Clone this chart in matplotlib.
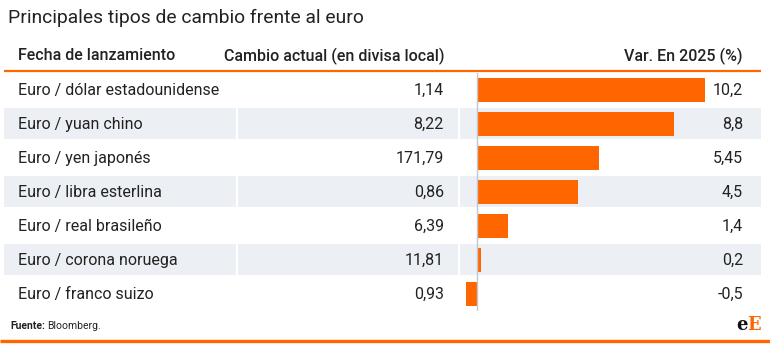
import matplotlib
matplotlib.use("Agg")
import matplotlib.pyplot as plt

pares = ["Euro / dólar estadounidense", "Euro / yuan chino", "Euro / yen japonés",
         "Euro / libra esterlina", "Euro / real brasileño", "Euro / corona noruega",
         "Euro / franco suizo"]
cambio = ["1,14", "8,22", "171,79", "0,86", "6,39", "11,81", "0,93"]
variacion = [10.2, 8.8, 5.45, 4.5, 1.4, 0.2, -0.5]
var_labels = ["10,2", "8,8", "5,45", "4,5", "1,4", "0,2", "-0,5"]

orange = "#ff6600"
shade = "#eceff3"
txt = "#222222"

plt.rcParams['font.family'] = ['Roboto', 'DejaVu Sans']

W, H = 770, 353
fig = plt.figure(figsize=(W / 100, H / 100), dpi=100)

# background axes in pixel coordinates, used for the table layout
bg = fig.add_axes([0, 0, 1, 1])
bg.set_xlim(0, W)
bg.set_ylim(H, 0)
bg.axis("off")

bg.text(8, 18, "Principales tipos de cambio frente al euro", fontsize=13.9,
        color=txt, va="center", ha="left")

hs = 11.5
bg.text(18, 56, "Fecha de lanzamiento", fontsize=hs, weight="medium",
        color=txt, va="center", ha="left")
bg.text(444, 56, "Cambio actual (en divisa local)", fontsize=hs, weight="medium",
        color=txt, va="center", ha="right")
bg.text(743, 56, "Var. En 2025 (%)", fontsize=hs, weight="medium",
        color=txt, va="center", ha="right")
bg.plot([4, 761], [71, 71], color=orange, lw=1.6, solid_capstyle="butt")

fs = 11.5
row0, step = 90, 34
for i, (p, c, v) in enumerate(zip(pares, cambio, var_labels)):
    yc = row0 + step * i
    if i % 2 == 1:
        for x0, x1 in [(4, 236), (238, 458), (460, 761)]:
            bg.add_patch(plt.Rectangle((x0, yc - 16), x1 - x0, 31,
                                       facecolor=shade, edgecolor="none", zorder=0))
    bg.text(18, yc, p, fontsize=fs, color=txt, va="center", ha="left")
    bg.text(444, yc, c, fontsize=fs, color=txt, va="center", ha="right")
    bg.text(743, yc, v, fontsize=fs, color=txt, va="center", ha="right")

bg.text(10, 326, "Fuente:", fontsize=7.5, weight="bold", color=txt, va="center", ha="left")
bg.text(47, 326, "Bloomberg.", fontsize=7.5, color=txt, va="center", ha="left")
bg.text(748, 325, "e", fontsize=13, weight="bold", family="DejaVu Serif",
        color="#111111", va="center", ha="right")
bg.text(747, 325, "E", fontsize=13, weight="bold", family="DejaVu Serif",
        color=orange, va="center", ha="left")
bg.plot([0, W], [340.5, 340.5], color=orange, lw=2.4, solid_capstyle="butt")

# bar axes: zero at x=477 px, 10.2 -> 705 px
scale = (705 - 477) / 10.2
ax = fig.add_axes([460 / W, (H - 311) / H, (761 - 460) / W, (311 - 73) / H])
ax.patch.set_alpha(0)
ax.set_xlim((460 - 477) / scale, (761 - 477) / scale)
ax.set_ylim(6.5, -0.5)
ax.barh(range(len(variacion)), variacion, height=24 / 34, color=orange, zorder=2)
ax.axvline(0, color="#c4c8cc", lw=1, zorder=3)
ax.axis("off")

fig.savefig("out.png", dpi=100)
